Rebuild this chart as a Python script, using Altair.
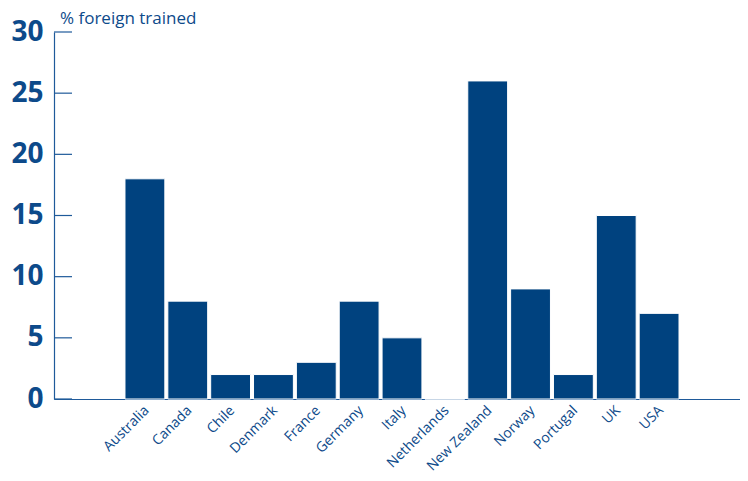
import altair as alt
import pandas as pd

countries = ["Australia", "Canada", "Chile", "Denmark", "France", "Germany", "Italy",
             "Netherlands", "New Zealand", "Norway", "Portugal", "UK", "USA"]
values = [18, 8, 2, 2, 3, 8, 5, 0, 26, 9, 2, 15, 7]
yticks = [0, 5, 10, 15, 20, 25, 30]

df = pd.DataFrame({"country": countries, "value": values})
ticks_df = pd.DataFrame({"t": yticks})
x_domain = [" "] + countries + ["  "]

BAR = "#00427f"
TXT = "#0d4a8a"
LINE = "#1f5a9a"

x = alt.X("country:N", title=None,
          scale=alt.Scale(domain=x_domain, paddingInner=0.07, paddingOuter=0.54, align=0.608),
          axis=alt.Axis(labelAngle=-45, labelAlign="right", labelBaseline="middle",
                        labelPadding=9, labelFontSize=14, labelColor=TXT,
                        labelFont="Open Sans", ticks=False, domainColor=LINE,
                        domainWidth=1.2, labelOffset=2))
y = alt.Y("value:Q", title=None,
          scale=alt.Scale(domain=[0, 30], nice=False),
          axis=alt.Axis(values=yticks, ticks=False, grid=False, labelFontSize=28,
                        labelFontWeight="bold", labelColor=TXT, labelFont="Open Sans",
                        labelPadding=11, domainColor=LINE, domainWidth=1.2))

bars = alt.Chart(df).mark_bar(color=BAR, stroke="white", strokeWidth=1).encode(x=x, y=y)

tick_rules = alt.Chart(ticks_df).mark_rule(color=LINE, strokeWidth=1.2).encode(
    y=alt.Y("t:Q", scale=alt.Scale(domain=[0, 30], nice=False)),
    x=alt.value(0), x2=alt.value(18))

label = alt.Chart(pd.DataFrame({"t": ["% foreign trained"]})).mark_text(
    align="left", baseline="alphabetic", fontSize=17, color=TXT, font="Open Sans"
).encode(text="t:N", x=alt.value(6), y=alt.value(-8))

chart = alt.layer(bars, tick_rules, label).properties(
    width=686, height=367,
    autosize=alt.AutoSizeParams(type="none"),
    padding={"left": 46, "top": 24, "right": 0, "bottom": 74},
).configure_view(stroke=None)

chart.save("out.html", embed_options={"renderer": "svg", "actions": False})
